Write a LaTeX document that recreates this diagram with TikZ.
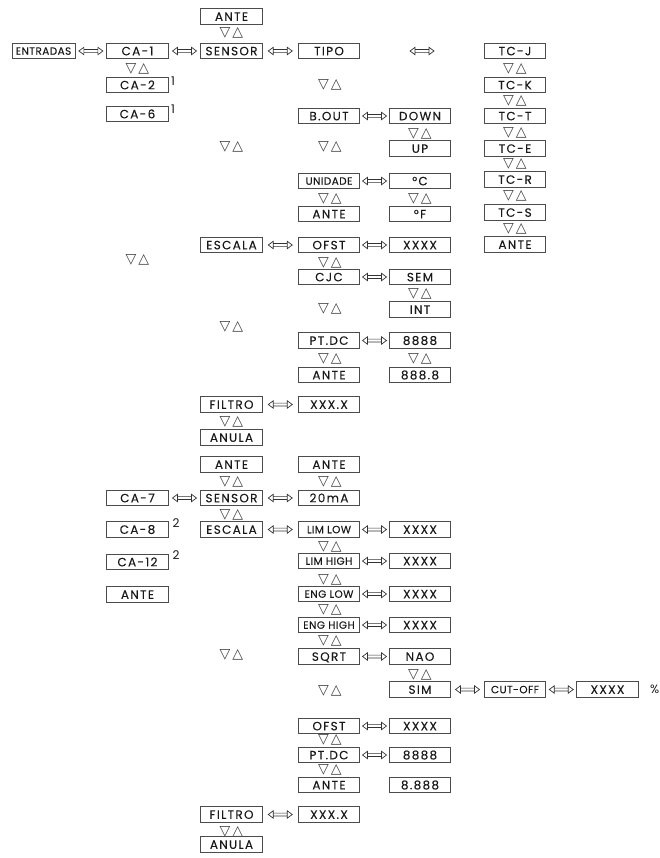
\documentclass[tikz,border=0pt]{standalone}
\usepackage{fontspec}
\usetikzlibrary{calc}
\newfontfamily\popfont[LetterSpace=11, FakeBold=0.12]{Poppins}
\newfontfamily\popsmall[LetterSpace=4, FakeBold=0.12]{Poppins}
\newfontfamily\popthin{Poppins}
\newfontfamily\dejafont{DejaVu Sans}
\newcommand\bigtxt{\popfont\fontsize{12}{12}\selectfont}
\newcommand\smalltxt{\popsmall\fontsize{10.5}{11}\selectfont}
\newcommand\suptxt{\popthin\fontsize{12}{12}\selectfont}
\newcommand\tritxt{\dejafont\fontsize{14}{14}\selectfont}
\newcommand\ud{▽\hspace{2pt}△}
\tikzset{
  box/.style={draw=black!70, line width=0.9pt, minimum width=61.5pt, minimum height=15.5pt,
              inner sep=0pt, text height=8.6pt, text depth=0pt, font=\bigtxt, text=black!90},
  sbox/.style={box, font=\smalltxt, text height=7.5pt},
  tri/.style={inner sep=0pt, font=\tritxt, text=black!75},
  supnum/.style={inner sep=0pt, font=\suptxt, text=black!90},
  dbl/.style={draw=black!80, line width=0.7pt, line join=miter,
    to path={($(\tikztostart.east)!0.5!(\tikztotarget.west)$) coordinate (mid)
      (mid) ++(-12,0) -- ++(5,-3.7) -- ++(0,7.4) -- cycle
      (mid) ++(12,0) -- ++(-5,-3.7) -- ++(0,7.4) -- cycle
      (mid) ++(-7,-1.4) -- ++(14,0)
      (mid) ++(-7,1.4) -- ++(14,0)}}
}
\begin{document}
\begin{tikzpicture}[x=1pt,y=-1pt]
\useasboundingbox (0,0) rectangle (660,858);
% ---------- upper part ----------
\node[box] (ante0) at (231.5,16.5) {ANTE};
\node[tri] (t01) at (231.5,33) {\ud};
\node[sbox, minimum width=63pt] (entr) at (43.5,51) {ENTRADAS};
\node[box] (ca1) at (137.5,51) {CA-1};
\node[box] (sens1) at (231.5,51) {SENSOR};
\node[box] (tipo) at (329,51) {TIPO};
\node[box] (tcj) at (515,51) {TC-J};
\node[tri] (t02) at (137.5,68.5) {\ud};
\node[tri] (t03) at (515,69) {\ud};
\node[box] (ca2) at (137.5,85) {CA-2};
\node[supnum] (s1a) at (173,81) {1};
\node[tri] (t04) at (330,85) {\ud};
\node[box] (tck) at (515,85) {TC-K};
\node[tri] (t05) at (515,100.5) {\ud};
\node[box] (ca6) at (137.5,114) {CA-6};
\node[supnum] (s1b) at (173,109) {1};
\node[box] (bout) at (329,116) {B.OUT};
\node[box] (down) at (420,116) {DOWN};
\node[box] (tct) at (515,116) {TC-T};
\node[tri] (t06) at (420,133.5) {\ud};
\node[tri] (t07) at (515,132.5) {\ud};
\node[tri] (t08) at (231.5,147) {\ud};
\node[tri] (t09) at (330,147) {\ud};
\node[box] (up) at (420,148.5) {UP};
\node[box] (tce) at (515,148.5) {TC-E};
\node[tri] (t10) at (515,164) {\ud};
\node[sbox] (unid) at (329,181) {UNIDADE};
\node[box] (degc) at (420,181) {°C};
\node[box] (tcr) at (515,179.5) {TC-R};
\node[tri] (t11) at (330,198.5) {\ud};
\node[tri] (t12) at (420,198.5) {\ud};
\node[tri] (t13) at (515,196) {\ud};
\node[box] (antec1) at (329,214) {ANTE};
\node[box] (degf) at (420,214) {°F};
\node[box] (tcs) at (515,212.5) {TC-S};
\node[tri] (t14) at (515,228.5) {\ud};
\node[box] (esc1) at (231.5,245) {ESCALA};
\node[box] (ofst1) at (329,245) {OFST};
\node[box] (xx1) at (420,245) {XXXX};
\node[box] (antee) at (515,244.5) {ANTE};
\node[tri] (t15) at (137.5,260) {\ud};
\node[tri] (t16) at (330,263) {\ud};
\node[box] (cjc) at (329,277) {CJC};
\node[box] (sem) at (420,277) {SEM};
\node[tri] (t17) at (420,294) {\ud};
\node[tri] (t18) at (330,309) {\ud};
\node[box] (int) at (420,309.5) {INT};
\node[tri] (t19) at (231.5,327) {\ud};
\node[box] (ptdc1) at (329,340.5) {PT.DC};
\node[box] (n8a) at (420,340.5) {8888};
\node[tri] (t20) at (330,359) {\ud};
\node[tri] (t21) at (420,359) {\ud};
\node[box] (ante2) at (329,375) {ANTE};
\node[box] (n8b) at (420,375) {888.8};
\node[box] (filt1) at (231.5,404.5) {FILTRO};
\node[box] (xxx1) at (329,404.5) {XXX.X};
\node[tri] (t22) at (231.5,422) {\ud};
\node[box] (anul1) at (231.5,437.5) {ANULA};
% ---------- lower part ----------
\node[box] (anteb) at (231.5,464.5) {ANTE};
\node[box] (antec) at (329,464.5) {ANTE};
\node[tri] (t23) at (231.5,482) {\ud};
\node[tri] (t24) at (330,482) {\ud};
\node[box] (ca7) at (137.5,498) {CA-7};
\node[box] (sens2) at (231.5,498) {SENSOR};
\node[box] (ma) at (329,498) {20mA};
\node[tri] (t25) at (231.5,515) {\ud};
\node[box] (ca8) at (137.5,529.5) {CA-8};
\node[supnum] (s2a) at (176,523.5) {2};
\node[box] (esc2) at (231.5,529.5) {ESCALA};
\node[sbox] (limlow) at (329,529.5) {LIM LOW};
\node[box] (xx2) at (420,529.5) {XXXX};
\node[tri] (t26) at (330,547) {\ud};
\node[box] (ca12) at (137.5,562) {CA-12};
\node[supnum] (s2b) at (176,555.5) {2};
\node[sbox] (limhigh) at (329,561) {LIM HIGH};
\node[box] (xx3) at (420,561) {XXXX};
\node[tri] (t27) at (330,580) {\ud};
\node[box] (antea) at (137.5,594.5) {ANTE};
\node[sbox] (englow) at (329,594) {ENG LOW};
\node[box] (xx4) at (420,594) {XXXX};
\node[tri] (t28) at (330,610) {\ud};
\node[sbox] (enghigh) at (329,625) {ENG HIGH};
\node[box] (xx5) at (420,625) {XXXX};
\node[tri] (t29) at (330,641) {\ud};
\node[tri] (t30) at (231.5,655) {\ud};
\node[box] (sqrt) at (329,656.5) {SQRT};
\node[box] (nao) at (420,656.5) {NAO};
\node[tri] (t31) at (420,675) {\ud};
\node[tri] (t32) at (330,691) {\ud};
\node[box] (sim) at (420,689.5) {SIM};
\node[sbox] (cut) at (515,689.5) {CUT-OFF};
\node[box] (xx6) at (607.5,689.5) {XXXX};
\node[supnum, anchor=west] (pct) at (650,689.5) {\%};
\node[box] (ofst2) at (329,726) {OFST};
\node[box] (xx7) at (420,726) {XXXX};
\node[tri] (t33) at (330,740) {\ud};
\node[box] (ptdc2) at (329,755) {PT.DC};
\node[box] (n8c) at (420,755) {8888};
\node[tri] (t34) at (330,770) {\ud};
\node[box] (ante3) at (329,785) {ANTE};
\node[box] (n8d) at (420,785) {8.888};
\node[box] (filt2) at (231.5,814.5) {FILTRO};
\node[box] (xxx2) at (329,814.5) {XXX.X};
\node[tri] (t35) at (231.5,832) {\ud};
\node[box] (anul2) at (231.5,844.5) {ANULA};
% ---------- double arrows ----------
\foreach \a/\b in {entr/ca1, ca1/sens1, sens1/tipo, tipo/tcj, bout/down, unid/degc,
  esc1/ofst1, ofst1/xx1, cjc/sem, ptdc1/n8a, filt1/xxx1, ca7/sens2, sens2/ma,
  esc2/limlow, limlow/xx2, limhigh/xx3, englow/xx4, enghigh/xx5, sqrt/nao,
  sim/cut, cut/xx6, ofst2/xx7, ptdc2/n8c, filt2/xxx2}
  \draw[dbl] (\a) to (\b);
\end{tikzpicture}
\end{document}
